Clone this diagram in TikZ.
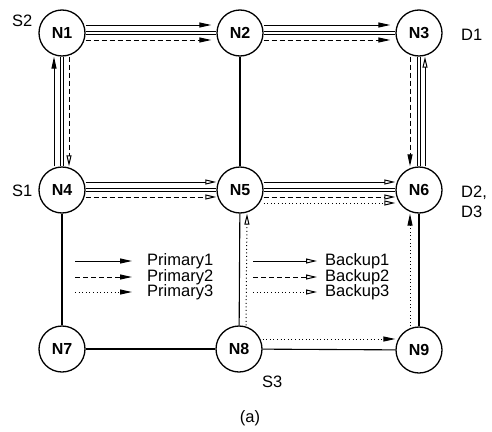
\documentclass[tikz,border=0pt]{standalone}
\usepackage{fontspec}
\setmainfont{Liberation Sans}
\usetikzlibrary{arrows.meta}
\begin{document}
\begin{tikzpicture}[x=1pt,y=-1pt,
  router/.style={circle,draw,line width=1.3pt,minimum size=46pt,inner sep=0pt,
    font=\fontsize{16}{19}\selectfont\bfseries},
  lbl/.style={font=\fontsize{16.5}{19.5}\selectfont,inner sep=0pt},
  link/.style={line width=1.1pt},
  duallink/.style={line width=1pt,double,double distance=1.3pt},
  pri/.style={line width=1pt,-{Triangle[length=12pt,width=5pt]}},
  bak/.style={line width=1pt,-{Triangle[open,length=11pt,width=5pt]}},
  dsh/.style={dash pattern=on 5pt off 3pt},
  dts/.style={dash pattern=on 1pt off 2.6pt}]
\useasboundingbox (0,0) rectangle (492,431);

% routers
\node[router] (N1) at (62,33)  {N1};
\node[router] (N2) at (240,33) {N2};
\node[router] (N3) at (419,33) {N3};
\node[router] (N4) at (62,190)  {N4};
\node[router] (N5) at (240,190) {N5};
\node[router] (N6) at (419,190) {N6};
\node[router] (N7) at (62,349)  {N7};
\node[router] (N8) at (239,349) {N8};
\node[router] (N9) at (419,350) {N9};

% physical links
\draw[duallink] (N1) -- (N2);
\draw[duallink] (N2) -- (N3);
\draw[duallink] (N1) -- (N4);
\draw[duallink] (N4) -- (N5);
\draw[duallink] (N5) -- (N6);
\draw[duallink] (N3) -- (N6);
\draw[link] (N2) -- (N5);
\draw[link] (N4) -- (N7);
\draw[link] (N5) -- (N8);
\draw[link] (N6) -- (N9);
\draw[link] (N7) -- (N8);
\draw[link] (N8) -- (N9);

% Primary1: N4 -> N1 -> N2 -> N3
\draw[pri] ([xshift=-8pt]N4.north) -- ([xshift=-8pt]N1.south);
\draw[pri,shorten >=5pt] ([yshift=8pt]N1.east) -- ([yshift=8pt]N2.west);
\draw[pri,shorten >=5pt] ([yshift=8pt]N2.east) -- ([yshift=8pt]N3.west);
% Primary2: N1 -> N2 -> N3 -> N6
\draw[pri,dsh,shorten >=5pt] ([yshift=-7pt]N1.east) -- ([yshift=-7pt]N2.west);
\draw[pri,dsh,shorten >=5pt] ([yshift=-7pt]N2.east) -- ([yshift=-7pt]N3.west);
\draw[pri,dsh] ([xshift=-9pt]N3.south) -- ([xshift=-9pt]N6.north);
% Primary3: N8 -> N9 -> N6
\draw[pri,dts] ([yshift=10pt]N8.east) -- ([yshift=11pt]N9.west);
\draw[pri,dts] ([xshift=-9pt]N9.north) -- ([xshift=-9pt]N6.south);

% Backup1: N4 -> N5 -> N6 -> N3
\draw[bak] ([yshift=8pt]N4.east) -- ([yshift=8pt]N5.west);
\draw[bak] ([yshift=8pt]N5.east) -- ([yshift=8pt]N6.west);
\draw[bak] ([xshift=6pt]N6.north) -- ([xshift=6pt]N3.south);
% Backup2: N1 -> N4 -> N5 -> N6
\draw[bak,dsh] ([xshift=7pt]N1.south) -- ([xshift=7pt]N4.north);
\draw[bak,dsh] ([yshift=-7pt]N4.east) -- ([yshift=-7pt]N5.west);
\draw[bak,dsh] ([yshift=-7pt]N5.east) -- ([yshift=-7pt]N6.west);
% Backup3: N8 -> N5 -> N6
\draw[bak,dts] ([xshift=7pt]N8.north) -- ([xshift=7pt]N5.south);
\draw[bak,dts] ([yshift=-13pt]N5.east) -- ([yshift=-13pt]N6.west);

% sources and destinations
\node[lbl,anchor=west] (s2) at (12,21)  {S2};
\node[lbl,anchor=west] (s1) at (12,191) {S1};
\node[lbl,anchor=west] (s3) at (262,382) {S3};
\node[lbl,anchor=west] (d1) at (461,35) {D1};
\node[lbl,anchor=west,align=left] (d23) at (461,202) {D2,\\D3};

% legend
\coordinate (p1a) at (75,261);  \coordinate (p1b) at (132,261);
\coordinate (p2a) at (75,277);  \coordinate (p2b) at (132,277);
\coordinate (p3a) at (75,292);  \coordinate (p3b) at (132,292);
\coordinate (b1a) at (253,261); \coordinate (b1b) at (317,261);
\coordinate (b2a) at (253,277); \coordinate (b2b) at (317,277);
\coordinate (b3a) at (253,292); \coordinate (b3b) at (317,292);
\draw[pri] (p1a) -- (p1b);
\draw[pri,dsh] (p2a) -- (p2b);
\draw[pri,dts] (p3a) -- (p3b);
\draw[bak] (b1a) -- (b1b);
\draw[bak,dsh] (b2a) -- (b2b);
\draw[bak,dts] (b3a) -- (b3b);
\node[lbl,anchor=west] (tp1) at (147,261) {Primary1};
\node[lbl,anchor=west] (tp2) at (147,277) {Primary2};
\node[lbl,anchor=west] (tp3) at (147,292) {Primary3};
\node[lbl,anchor=west] (tb1) at (325,261) {Backup1};
\node[lbl,anchor=west] (tb2) at (325,277) {Backup2};
\node[lbl,anchor=west] (tb3) at (325,292) {Backup3};

% caption
\node[lbl] (cap) at (250,418) {(a)};
\end{tikzpicture}
\end{document}
